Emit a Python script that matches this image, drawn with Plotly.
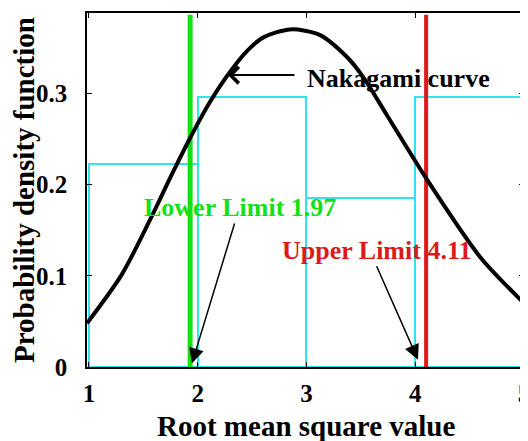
import plotly.graph_objects as go

# Histogram bins (root mean square value) and heights
bin_centers = [1.5, 2.5, 3.5, 4.5]
bin_heights = [0.222, 0.296, 0.185, 0.296]

# Nakagami curve points
curve_x = [0.982, 1.3, 1.56, 1.77, 1.93, 2.10, 2.27, 2.45, 2.60, 2.85, 3.12, 3.37, 3.52, 3.74, 4.11, 4.60, 5.0]
curve_y = [0.048, 0.101, 0.161, 0.213, 0.251, 0.288, 0.319, 0.346, 0.361, 0.370, 0.364, 0.340, 0.318, 0.276, 0.205, 0.120, 0.070]

# Limits
lower_limit = 1.93
upper_limit = 4.10
limit_top = 0.386
lower_label = "Lower Limit 1.97"
upper_label = "Upper Limit 4.11"

x_ticks = [1, 2, 3, 4, 5]
y_ticks = [0, 0.1, 0.2, 0.3]
y_ticktext = ["0", "0.1", "0.2", "0.3"]
x_title = "Root mean square value"
y_title = "Probability density function"

FONT = "Times New Roman, Liberation Serif, serif"

fig = go.Figure()
fig.add_trace(go.Bar(x=bin_centers, y=bin_heights, width=1,
                     marker=dict(color="rgba(0,0,0,0)", line=dict(color="#2FE4EE", width=2)),
                     showlegend=False))
fig.add_trace(go.Scatter(x=[lower_limit, lower_limit], y=[0, limit_top], mode="lines",
                         line=dict(color="#14E014", width=5), showlegend=False))
fig.add_trace(go.Scatter(x=[upper_limit, upper_limit], y=[0, limit_top], mode="lines",
                         line=dict(color="#DC1A1A", width=4), showlegend=False))
fig.add_trace(go.Scatter(x=curve_x, y=curve_y, mode="lines",
                         line=dict(color="black", width=4, shape="spline", smoothing=0.8),
                         showlegend=False))

ann_font = dict(family=FONT, size=26, color="black")
annotations = [
    dict(x=2.986, y=0.316, text="<b>Nakagami curve</b>", showarrow=False,
         xanchor="left", yanchor="middle", font=ann_font),
    dict(x=2.278, y=0.320, ax=2.903, ay=0.320, axref="x", ayref="y", text="",
         showarrow=True, arrowhead=4, arrowsize=1.6, arrowwidth=2, arrowcolor="black"),
    dict(x=2.389, y=0.175, text="<b>" + lower_label + "</b>", showarrow=False,
         xanchor="center", yanchor="middle", font=dict(family=FONT, size=26, color="#14E014")),
    dict(x=1.947, y=0.004, ax=2.343, ay=0.159, axref="x", ayref="y", text="",
         showarrow=True, arrowhead=2, arrowsize=2, arrowwidth=1.5, arrowcolor="black"),
    dict(x=3.644, y=0.128, text="<b>" + upper_label + "</b>", showarrow=False,
         xanchor="center", yanchor="middle", font=dict(family=FONT, size=26, color="#DC1A1A")),
    dict(x=4.025, y=0.008, ax=3.639, ay=0.112, axref="x", ayref="y", text="",
         showarrow=True, arrowhead=2, arrowsize=2, arrowwidth=1.5, arrowcolor="black"),
    dict(x=0.5, y=-0.166, xref="paper", yref="paper", text="<b>" + x_title + "</b>",
         showarrow=False, xanchor="center", yanchor="middle",
         font=dict(family=FONT, size=29, color="black")),
]

axis_common = dict(showline=True, linecolor="black", linewidth=1.5, mirror="ticks",
                   ticks="inside", ticklen=5, tickcolor="black", tickwidth=1,
                   showgrid=False, zeroline=False, automargin=False,
                   ticklabeloverflow="allow",
                   tickfont=dict(family=FONT, size=25, color="black"))

# the page body adds an 8px offset, so the figure is 8px smaller
fig.update_layout(
    width=520, height=433,
    margin=dict(l=79, r=4, t=5, b=74),
    plot_bgcolor="white", paper_bgcolor="white",
    bargap=0,
    annotations=annotations,
    xaxis=dict(range=[0.982, 5.0], tickvals=x_ticks,
               ticktext=["<b>%d</b>" % v for v in x_ticks],
               ticklabelstandoff=3,
               **axis_common),
    yaxis=dict(range=[0, 0.388], tickvals=y_ticks,
               ticktext=["<b>%s</b>" % t for t in y_ticktext],
               ticklabelstandoff=13,
               title=dict(text="<b>" + y_title + "</b>",
                          font=dict(family=FONT, size=29, color="black"), standoff=8),
               **axis_common),
)

fig.write_html("out.html")
